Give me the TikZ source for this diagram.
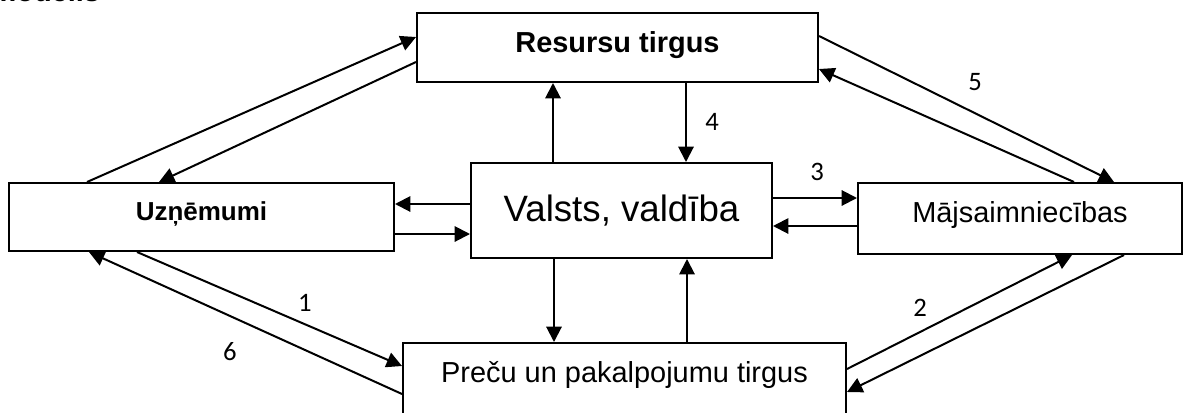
\documentclass[tikz,border=0pt]{standalone}
\usepackage{fontspec}
\setmainfont{Liberation Sans}
\newfontfamily\numfont{Carlito}
\usetikzlibrary{arrows.meta,calc}

\begin{document}
\begin{tikzpicture}[x=0.75pt, y=-0.75pt, line width=1.5pt,
	every node/.style={inner sep=0pt, font=\fontsize{21.7}{26}\selectfont},
	blok/.style={draw, rectangle, minimum height=#1, text height=29.25pt, text depth=24pt},
	plusma/.style={-{Triangle[length=11.5pt, width=11.5pt]}},
	nr/.style={font=\numfont\fontsize{20}{24}\selectfont}]
				\useasboundingbox (0,0) rectangle (1184,412);
				\clip (0,0) rectangle (1184,412);
				\node[anchor=base east, font=\bfseries\fontsize{21.7}{26}\selectfont] (virsraksts) at (101,1) {modelis};
				\node[blok=51.75pt, minimum width=300.75pt, text depth=22.5pt, font=\bfseries\fontsize{21.7}{26}\selectfont] (res) at (617.5,47.5) {Resursu tirgus};
				\node[blok=51pt, minimum width=288.75pt, text height=27.75pt, text depth=23.25pt, font=\bfseries\fontsize{19.5}{24}\selectfont] (uzn) at (201.5,217) {Uzņēmumi};
				\node[blok=71.25pt, minimum width=225.75pt, text height=43.5pt, text depth=27.75pt, font=\fontsize{27.5}{32}\selectfont] (val) at (621.5,210.5) {Valsts, valdība};
				\node[blok=53.25pt, minimum width=243pt] (maj) at (1020,218.5) {Mājsaimniecības};
				\node[blok=54.75pt, minimum width=332.25pt, text depth=25.5pt] (pre) at (624.5,379.5) {Preču un pakalpojumu tirgus};
				\draw[plusma] ($(uzn.north west)+(79,0)$) -- ($(res.north west)+(0,25)$);
				\draw[plusma] ($(res.north west)+(0,50)$) -- ($(uzn.north west)+(151,0)$);
				\draw[plusma] ($(res.north east)+(0,24)$) -- ($(maj.north west)+(257,0)$);
				\draw[plusma] ($(maj.north west)+(217,0)$) -- ($(res.north east)+(0,57)$);
				\draw[plusma] ($(val.north west)+(83,0)$) -- ($(res.south west)+(137,0)$);
				\draw[plusma] ($(res.south west)+(270,0)$) -- ($(val.north west)+(216,0)$);
				\draw[plusma] ($(val.north west)+(0,42)$) -- ($(uzn.north east)+(0,22)$);
				\draw[plusma] ($(uzn.north east)+(0,52)$) -- ($(val.north west)+(0,72)$);
				\draw[plusma] ($(val.north east)+(0,36)$) -- ($(maj.north west)+(0,16)$);
				\draw[plusma] ($(maj.north west)+(0,44)$) -- ($(val.north east)+(0,64)$);
				\draw[plusma] ($(val.south west)+(84,0)$) -- ($(pre.north west)+(152,0)$);
				\draw[plusma] ($(pre.north west)+(285,0)$) -- ($(val.south west)+(217,0)$);
				\draw[plusma] ($(uzn.south west)+(129,0)$) -- ($(pre.north west)+(0,24)$);
				\draw[plusma] ($(pre.north west)+(0,52)$) -- ($(uzn.south west)+(81,0)$);
				\draw[plusma] ($(pre.north east)+(0,27)$) -- ($(maj.south west)+(215,0)$);
				\draw[plusma] ($(maj.south west)+(267,0)$) -- ($(pre.north east)+(0,50)$);
				\node[nr] (n1) at (305,303) {1};
				\node[nr] (n2) at (920,308) {2};
				\node[nr] (n3) at (817,172) {3};
				\node[nr] (n4) at (712,122) {4};
				\node[nr] (n5) at (975,82) {5};
				\node[nr] (n6) at (230,352) {6};
			\end{tikzpicture}
\end{document}
